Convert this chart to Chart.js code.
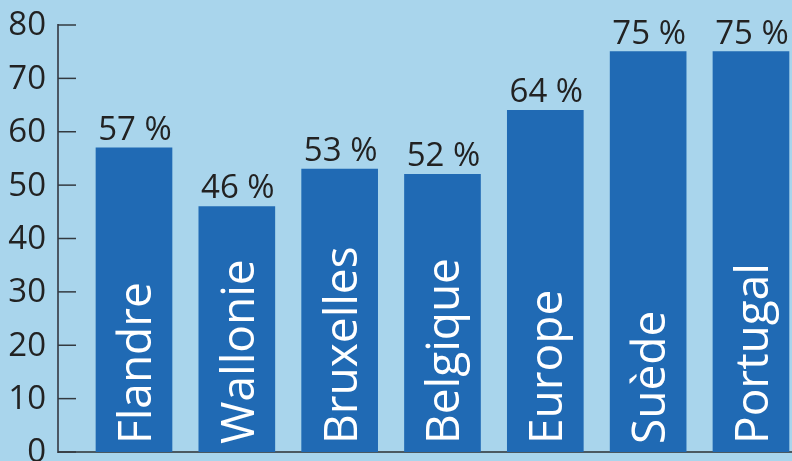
<!DOCTYPE html>
<html>
<head>
<meta charset="utf-8">
<script src="https://cdn.jsdelivr.net/npm/chart.js@4"></script>
<style>
  html, body { margin:0; padding:0; overflow:hidden; background:#a9d5ec; }
  #wrap { position:absolute; left:0; top:0; width:792px; height:480px; }
</style>
</head>
<body>
<div id="wrap"><canvas id="c"></canvas></div>
<script>
const categories = ["Flandre", "Wallonie", "Bruxelles", "Belgique", "Europe", "Suède", "Portugal"];
const values = [57, 46, 53, 52, 64, 75, 75];
const valueLabels = ["57 %", "46 %", "53 %", "52 %", "64 %", "75 %", "75 %"];
const yTicks = [0, 10, 20, 30, 40, 50, 60, 70, 80];

const FONT = "'Open Sans', 'DejaVu Sans', sans-serif";

const deco = {
  id: 'deco',
  beforeDatasetsDraw(chart) {
    const ctx = chart.ctx, y = chart.scales.y, area = chart.chartArea;
    ctx.save();
    ctx.strokeStyle = '#2b2f33';
    ctx.lineWidth = 1.6;
    const y0 = y.getPixelForValue(0);
    ctx.beginPath(); ctx.moveTo(area.left, y0); ctx.lineTo(chart.width, y0); ctx.stroke();
    ctx.strokeStyle = '#333a40';
    ctx.lineWidth = 1.5;
    yTicks.forEach(v => {
      const py = y.getPixelForValue(v);
      ctx.beginPath(); ctx.moveTo(area.left, py); ctx.lineTo(area.left + 18, py); ctx.stroke();
    });
    ctx.restore();
  },
  afterDatasetsDraw(chart) {
    const ctx = chart.ctx, y = chart.scales.y;
    const meta = chart.getDatasetMeta(0);
    const y0 = y.getPixelForValue(0);
    ctx.save();
    meta.data.forEach((bar, i) => {
      ctx.fillStyle = '#222222';
      ctx.font = "33px " + FONT;
      ctx.textAlign = 'center';
      ctx.textBaseline = 'alphabetic';
      ctx.fillText(valueLabels[i], bar.x + 1, bar.y - 8);
      ctx.save();
      ctx.translate(bar.x + 17, y0 - 8);
      ctx.rotate(-Math.PI / 2);
      ctx.fillStyle = '#ffffff';
      ctx.font = "46px " + FONT;
      ctx.textAlign = 'left';
      ctx.textBaseline = 'alphabetic';
      ctx.fillText(categories[i], 0, 0);
      ctx.restore();
    });
    ctx.restore();
  }
};

new Chart(document.getElementById('c'), {
  type: 'bar',
  data: {
    datasets: [{
      data: values.map((v, i) => ({ x: i, y: v })),
      backgroundColor: '#206ab4',
      borderWidth: 0,
      barThickness: 76
    }]
  },
  options: {
    responsive: true,
    maintainAspectRatio: false,
    animation: false,
    layout: { padding: { top: 25, bottom: 28, left: 0, right: 0 } },
    plugins: { legend: { display: false }, tooltip: { enabled: false } },
    scales: {
      x: {
        type: 'linear',
        offset: false,
        min: -0.739,
        max: 6.399,
        display: false
      },
      y: {
        min: 0,
        max: 80,
        afterFit(scale) { scale.width = 58; scale.paddingTop = 0; scale.paddingBottom = 0; },
        afterBuildTicks(scale) { scale.ticks = yTicks.map(v => ({ value: v })); },
        grid: { display: false, drawTicks: false },
        border: { display: true, color: '#4a5663', width: 2 },
        ticks: {
          padding: 12,
          labelOffset: 1,
          color: '#222222',
          font: { family: FONT, size: 33 }
        }
      }
    }
  },
  plugins: [deco]
});
</script>
</body>
</html>
